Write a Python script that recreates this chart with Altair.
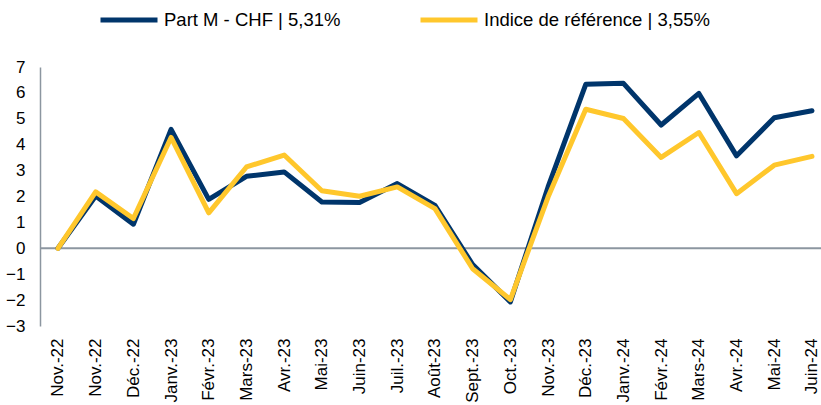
import altair as alt
import pandas as pd

labels = ["Nov.-22", "Nov.-22", "Déc.-22", "Janv.-23", "Févr.-23", "Mars-23", "Avr.-23",
          "Mai-23", "Juin-23", "Juil.-23", "Août-23", "Sept.-23", "Oct.-23", "Nov.-23",
          "Déc.-23", "Janv.-24", "Févr.-24", "Mars-24", "Avr.-24", "Mai-24", "Juin-24"]
part_m = [0, 2.02, 0.93, 4.59, 1.89, 2.78, 2.95, 1.79, 1.77, 2.50, 1.66, -0.63, -2.07,
          2.37, 6.33, 6.37, 4.76, 5.98, 3.57, 5.04, 5.31]
indice = [0, 2.18, 1.15, 4.28, 1.37, 3.14, 3.60, 2.22, 2.01, 2.37, 1.53, -0.79, -1.98,
          1.98, 5.37, 5.01, 3.51, 4.47, 2.11, 3.21, 3.55]
series_names = ["Part M - CHF | 5,31%", "Indice de référence | 3,55%"]
series_colors = ["#00356B", "#FFC72C"]
y_ticks = [-3, -2, -1, 0, 1, 2, 3, 4, 5, 6, 7]

rows = []
for i in range(len(labels)):
    rows.append({"idx": i, "serie": series_names[0], "order": 0, "val": part_m[i]})
    rows.append({"idx": i, "serie": series_names[1], "order": 1, "val": indice[i]})
df = pd.DataFrame(rows)

label_expr = "[" + ",".join("'" + l + "'" for l in labels) + "][datum.value]"

FONT = "Liberation Sans"

x_scale = alt.Scale(domain=[-0.477, 20.24], nice=False, zero=False)
y_scale = alt.Scale(domain=[-3, 7], nice=False, zero=False)

x_axis = alt.Axis(values=list(range(len(labels))), labelExpr=label_expr,
                  labelAngle=270, labelFontSize=17, labelFont=FONT,
                  labelColor="#000000", labelPadding=12, ticks=False,
                  domain=False, grid=False, title=None, labelOverlap=False)
y_axis = alt.Axis(values=y_ticks, labelFontSize=17, labelFont=FONT,
                  labelColor="#000000", labelPadding=15, ticks=False,
                  domain=True, domainColor="#8C96A0", domainWidth=1.5,
                  grid=False, title=None)

lines = alt.Chart(df).mark_line(strokeWidth=5, strokeJoin="round", strokeCap="round").encode(
    x=alt.X("idx:Q", scale=x_scale, axis=x_axis),
    y=alt.Y("val:Q", scale=y_scale, axis=y_axis),
    color=alt.Color("serie:N",
                    scale=alt.Scale(domain=series_names, range=series_colors),
                    sort=series_names,
                    legend=alt.Legend(orient="none", legendX=58, legendY=-78,
                                      direction="horizontal", title=None,
                                      symbolType="stroke", symbolSize=3249,
                                      symbolStrokeWidth=5, labelFontSize=18.5,
                                      labelFont=FONT, labelColor="#000000",
                                      labelOffset=4, columnPadding=69, labelLimit=0,
                                      padding=0)),
    order=alt.Order("order:Q"),
    detail="serie:N",
)

zero = alt.Chart(pd.DataFrame({"z": [0]})).mark_rule(color="#8C96A0", strokeWidth=2).encode(
    y=alt.Y("z:Q", scale=y_scale, axis=y_axis)
)

chart = alt.layer(zero, lines).properties(
    width=781, height=259,
    autosize=alt.AutoSizeParams(type="none"),
    padding={"left": 40, "top": 67, "right": 0, "bottom": 79},
    background="white",
).configure_view(stroke=None, strokeWidth=0)

chart.save("out.html", embed_options={"renderer": "svg", "actions": False})
